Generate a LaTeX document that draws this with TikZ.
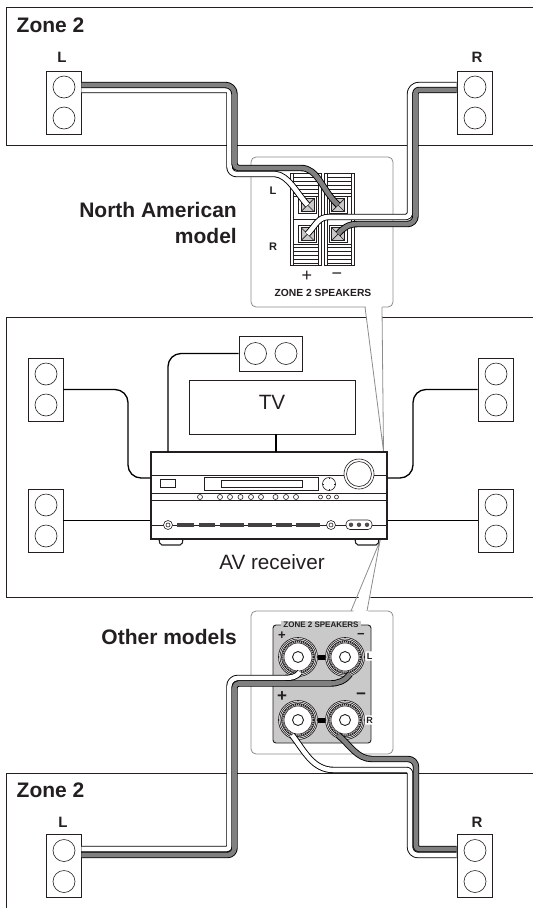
\documentclass[tikz,border=0pt]{standalone}
\usepackage{fontspec}
\setmainfont{Liberation Sans}
\usetikzlibrary{calc}
\definecolor{ink}{HTML}{231F20}
\definecolor{callgray}{HTML}{8C8C8C}
\definecolor{panelgray}{HTML}{C9C9C9}
\definecolor{wiregray}{HTML}{808080}
\tikzset{
    room/.style={draw=ink,line width=0.9pt},
    spkbox/.style={draw=ink,fill=white,line width=0.9pt,inner sep=0pt,minimum width=35pt,minimum height=63pt},
    cone/.style={draw=ink,line width=0.6pt},
    thinwire/.style={draw=black,line width=1.3pt,rounded corners=13pt},
    callout/.style={draw=callgray,fill=white,line width=0.8pt,rounded corners=5pt},
    pointer/.style={draw=callgray,line width=0.8pt},
    bigbold/.style={font=\fontsize{21}{21}\selectfont\bfseries,text=ink,inner sep=0pt},
    chanbold/.style={font=\fontsize{15}{15}\selectfont\bfseries,text=ink,inner sep=0pt},
    plainlabel/.style={font=\fontsize{20.7}{20.7}\selectfont,text=ink,inner sep=0pt},
    tinybold/.style={font=\fontsize{10.3}{10.3}\selectfont\bfseries,text=ink,inner sep=0pt},
    btn/.style={draw=ink,fill=white,line width=0.6pt},
}
% one conductor of the twin cable: #1 is the fill of the stripe
\newcommand{\cable}[2]{%
    \draw[black,line width=6.4pt,line join=round] #2;
    \draw[#1,line width=4.6pt,line join=round] #2;
}
\begin{document}
\begin{tikzpicture}[x=1pt,y=-1pt]
    \useasboundingbox (0,0) rectangle (533,908);
    % rooms
    \draw[room] (533,7) -- (6,7) -- (6,145) -- (533,145);
    \draw[room] (533,317) -- (6,317) -- (6,597) -- (533,597);
    \draw[room] (533,773) -- (6,773) -- (6,908);
    % callouts
    \draw[callout] (251,157) rectangle (393,307);
    \fill[white] (365,300) -- (383.5,451) -- (382,300) -- cycle;
    \draw[pointer] (365,307) -- (383.5,451) -- (382,307);
    \draw[callout] (251,611) rectangle (393,754);
    \fill[white] (351,618) -- (380,541) -- (367,618) -- cycle;
    \draw[pointer] (351,611) -- (380,541) -- (367,611);

    % speakers
    \node[spkbox] (zoneaL) at (63.5,102.5) {};
    \node[spkbox] (zoneaR) at (474.5,102.5) {};
    \node[spkbox] (frontL) at (45.5,389.5) {};
    \node[spkbox] (frontR) at (495.5,389.5) {};
    \node[spkbox] (surrL) at (45.5,520.5) {};
    \node[spkbox] (surrR) at (495.5,520.5) {};
    \node[spkbox] (zonebL) at (63.5,866) {};
    \node[spkbox] (zonebR) at (474.5,866) {};
    \foreach \ispk in {zoneaL,zoneaR,frontL,frontR,surrL,surrR,zonebL,zonebR}{
        \draw[cone] ($(\ispk)+(0.5,-15.5)$) circle (11);
        \draw[cone] ($(\ispk)+(0.5,15.5)$) circle (11);
    }
    \node[spkbox,minimum width=63pt,minimum height=35pt] (center) at (270.5,353.5) {};
    \draw[cone] (255.5,353.5) circle (11);
    \draw[cone] (286,353.5) circle (11);
    \node[draw=ink,line width=0.9pt,inner sep=0pt,minimum width=166pt,minimum height=54pt] (tv) at (272,407) {};
    \node[plainlabel] (tvlabel) at (272,402) {TV};

    % receiver
    \node[draw=ink,fill=white,line width=1.1pt,inner sep=0pt,minimum width=236pt,minimum height=87pt] (avr) at (269,495.5) {};
    \draw[ink,line width=1.1pt,rounded corners=2pt] (159,539) -- (160,545) -- (182,545) -- (183,539);
    \draw[ink,line width=1.1pt,rounded corners=2pt] (355,539) -- (356,545) -- (378,545) -- (379,539);
    \draw[ink,line width=0.7pt] (avr.west |- 0,475) -- (avr.east |- 0,475);
    \draw[ink,line width=0.7pt] (avr.west |- 0,493) -- (avr.east |- 0,493);
    \draw[ink,line width=0.7pt] (avr.west |- 0,500) -- (avr.east |- 0,500);
    \draw[ink,line width=0.7pt] (avr.west |- 0,525) -- (avr.east |- 0,525);
    \draw[ink,line width=0.7pt] (160,479) rectangle (175,487.5);
    \draw[btn] (204,477) rectangle (318,490);
    \draw[btn] (221,480) rectangle (302,487.5);
    \draw[btn] (329,484) circle (6.5);
    \foreach \y in {-6.5,6.5} {\draw[ink,line width=0.6pt] (329,484+\y) -- (329,484+\y*0.8);}
    \foreach \y in {-6.5,6.5} {\draw[ink,line width=0.6pt] (329+\y,484) -- (329+\y*0.8,484);}
    \draw[btn] (359,474) circle (15);
    \draw[ink,line width=0.6pt] (359,474) circle (12.5);
    \foreach \x in {200,220,230,240.5,251,261,275.5,286,296}{
        \draw[btn] (\x,497) circle (2.5);
    }
    \foreach \x in {320.5,328.5,336.5}{
        \draw[btn] (\x,497) circle (2);
    }
    \foreach \xa/\xb in {177/194,199/215,220/244,248/272,276/292,296/320}{
        \draw[ink!85,line width=3.4pt] (\xa,525) -- (\xb,525);
    }
    \foreach \x in {168,331}{
        \draw[btn] (\x,525) circle (4.5);
        \draw[ink,line width=0.6pt] (\x,525) circle (2);
    }
    \draw[btn,rounded corners=4pt] (346,520) rectangle (372,529.5);
    \foreach \x in {351,359,367}{
        \fill[ink!80] (\x,524.8) circle (2.2);
    }

    % speaker lines of the main room
    \draw[thinwire] (frontL.east) -- (128,389.5) -- (128,478) -- (avr.west |- 0,478);
    \draw[thinwire] (surrL.east) -- (avr.west |- surrL.east);
    \draw[thinwire] (frontR.west) -- (413,389.5) -- (413,478) -- (avr.east |- 0,478);
    \draw[thinwire] (surrR.west) -- (avr.east |- surrR.west);
    \draw[thinwire] (center.west) -- (168,353.5) -- (168,452);
    \draw[thinwire] ($(tv.south)+(4,0)$) -- ($(tv.south)+(4,18)$);

    % terminals of the upper callout
    \foreach \xa/\xb/\xc/\xd in {290.5/293.5/318/321,324/327.5/351/354}{
        \draw[ink,line width=0.7pt] (\xa,173) rectangle (\xd,265);
        \draw[ink,line width=0.7pt] (\xb,173) -- (\xb,265);
        \draw[ink,line width=0.7pt] (\xc,173) -- (\xc,265);
        \foreach \y in {177,181,185,189,193,247,251,255,259,263}{
            \draw[ink,line width=0.6pt] (\xb,\y) -- (\xc,\y);
        }
        \draw[ink,line width=0.7pt] (\xb,196) -- (\xc,196);
        \draw[ink,line width=0.7pt] (\xb,244) -- (\xc,244);
    }
    \draw[ink,line width=0.7pt] (293.5,219.5) -- (318,219.5);
    \draw[ink,line width=0.7pt] (327.5,219.5) -- (351,219.5);
    \foreach \ix/\iy in {307.5/205,338/205,307.5/234,338/234}{
        \draw[ink,line width=0.9pt,fill=white] (\ix-9,\iy-8.5) rectangle (\ix+9,\iy+8.5);
        \draw[ink,line width=0.7pt,fill=panelgray] (\ix-6.5,\iy-6.5) rectangle (\ix+6.5,\iy+6.5);
        \draw[ink,line width=0.7pt] (\ix-6.5,\iy-6.5) -- (\ix+6.5,\iy+6.5);
        \draw[ink,line width=0.7pt] (\ix+6.5,\iy-6.5) -- (\ix-6.5,\iy+6.5);
    }
    \node[chanbold,font=\fontsize{11}{11}\selectfont\bfseries] (calloutL) at (273,191) {L};
    \node[chanbold,font=\fontsize{11}{11}\selectfont\bfseries] (calloutR) at (273,247) {R};
    \node[chanbold,font=\fontsize{18}{18}\selectfont] (plus) at (307,276.5) {+};
    \node[chanbold,font=\fontsize{18}{18}\selectfont] (minus) at (337,276.5) {\textminus};
    \node[tinybold] (zonelabel) at (323,293) {ZONE 2 SPEAKERS};

    % panel of the lower callout
    \draw[fill=panelgray,draw=ink,line width=0.9pt,rounded corners=3pt] (273,625) rectangle (371,743);
    \node[tinybold,font=\fontsize{8}{8}\selectfont\bfseries,fill=panelgray,inner xsep=2pt,inner ysep=1pt] (zonelabelb) at (321,625) {ZONE 2 SPEAKERS};
    \foreach \iy in {657,720}{
        \draw[black,line width=5pt] (318,\iy) -- (327,\iy);
        \foreach \ix in {298,345}{
            \draw[ink,line width=0.7pt,fill=white] (\ix,\iy) circle (19.5);
            \draw[ink,line width=0.7pt] (\ix,\iy) circle (18);
            \draw[ink,line width=0.6pt,fill=panelgray] (\ix,\iy) circle (16.5);
            \draw[ink,line width=1.6pt,dash pattern=on 1pt off 1pt] (\ix,\iy) circle (15.5);
            \draw[ink,line width=0.6pt,fill=white] (\ix,\iy) circle (14);
            \draw[ink,line width=0.9pt] (\ix,\iy) circle (5.5);
        }
    }
    \node[chanbold,fill=white,inner sep=1.5pt,rounded corners=1pt,font=\fontsize{9}{9}\selectfont\bfseries] (panelL) at (369.5,656) {L};
    \node[chanbold,fill=white,inner sep=1.5pt,rounded corners=1pt,font=\fontsize{9}{9}\selectfont\bfseries] (panelR) at (369.5,720) {R};
    \node[chanbold,font=\fontsize{13}{13}\selectfont\bfseries] (plusa) at (282,636) {+};
    \node[chanbold,font=\fontsize{13}{13}\selectfont\bfseries] (minusa) at (361,636) {\textminus};
    \node[chanbold,font=\fontsize{17}{17}\selectfont\bfseries] (plusb) at (282,696.5) {+};
    \node[chanbold,font=\fontsize{17}{17}\selectfont\bfseries] (minusb) at (361,696) {\textminus};

    % free ends of the twin cables
    \coordinate (topLplus) at (307.5,205);
    \coordinate (topLminus) at (338,205);
    \coordinate (topRplus) at (307.5,234);
    \coordinate (topRminus) at (338,234);
    \coordinate (lowLplus) at (300,672);
    \coordinate (lowLminus) at (350,674);
    \coordinate (lowRplus) at (292,735);
    \coordinate (lowRminus) at (338,735);

    % twin cables, upper zone
    \cable{white}{(zoneaL.east |- 0,90) -- (229.5,90) [rounded corners=7pt] -- (229.5,174) [rounded corners=0pt] -- (275,174) .. controls (288,175) and (296,192) .. (topLplus)}
    \cable{wiregray}{[rounded corners=9pt] (zoneaL.east |- 0,85) -- (234.5,85) [rounded corners=4pt] -- (234.5,168) [rounded corners=0pt] -- (301,168) .. controls (318,168) and (322,190) .. (topLminus)}
    \cable{white}{(zoneaR.west |- 0,85) [rounded corners=9pt] -- (410,85) [rounded corners=4pt] -- (410,217) [rounded corners=0pt] -- (329,217) .. controls (318,217) and (316,225) .. (topRplus)}
    \cable{wiregray}{(zoneaR.west |- 0,90) [rounded corners=3pt] -- (415.5,90) [rounded corners=8pt] -- (415.5,224) [rounded corners=0pt] -- (358,224) .. controls (348,224) and (343,228) .. (topRminus)}

    % twin cables, lower zone
    \cable{white}{(lowLplus) .. controls (297,677) and (291,678) .. (284,678) [rounded corners=8pt] -- (229.5,678) [rounded corners=3pt] -- (229.5,849) -- (zonebL.east |- 0,849)}
    \cable{wiregray}{(lowLminus) .. controls (345,681) and (338,683.5) .. (330,683.5) [rounded corners=4pt] -- (234.5,683.5) [rounded corners=7pt] -- (234.5,855) -- (zonebL.east |- 0,855)}
    \cable{white}{(lowRplus) .. controls (305,752) and (313,770) .. (334,770) [rounded corners=3pt] -- (410,770) [rounded corners=8pt] -- (410,855) -- (zonebR.west |- 0,855)}
    \cable{wiregray}{(lowRminus) .. controls (350,745) and (357,759) .. (372,759) [rounded corners=8pt] -- (416,759) [rounded corners=3pt] -- (416,849) -- (zonebR.west |- 0,849)}

    % labels
    \node[bigbold,anchor=base west] (zonea) at (16.5,32) {Zone 2};
    \node[bigbold,anchor=base west] (zoneb) at (16.5,797) {Zone 2};
    \node[chanbold] (chanaL) at (62,57) {L};
    \node[chanbold] (chanaR) at (477,57) {R};
    \node[chanbold] (chanbL) at (63,822) {L};
    \node[chanbold] (chanbR) at (477,822) {R};
    \node[bigbold,anchor=base east] (northam) at (237,217) {North American};
    \node[bigbold,anchor=base east] (northmod) at (237,243) {model};
    \node[bigbold,anchor=base east] (others) at (237,644) {Other models};
    \node[plainlabel] (avrlabel) at (272,562) {AV receiver};
\end{tikzpicture}
\end{document}
